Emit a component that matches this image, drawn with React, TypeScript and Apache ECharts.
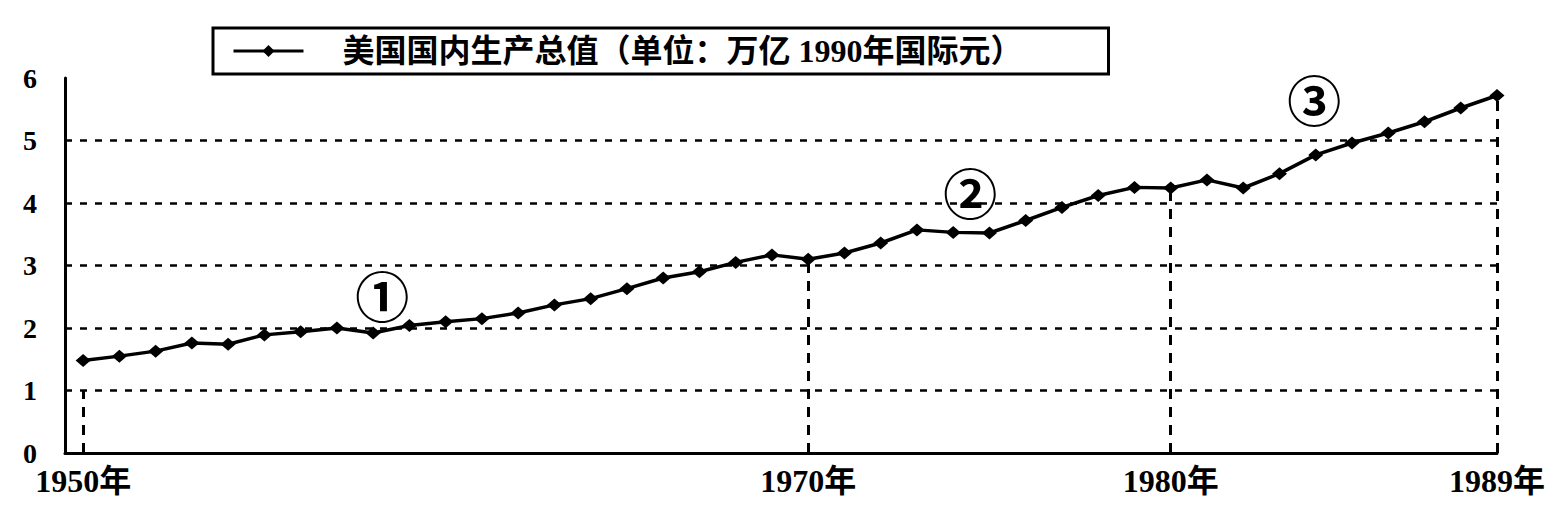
import React, { useEffect, useRef } from "react";
import * as echarts from "echarts";

const SERIES_NAME = "美国国内生产总值（单位：万亿 1990年国际元）";

const YEARS = [
  1950, 1951, 1952, 1953, 1954, 1955, 1956, 1957, 1958, 1959,
  1960, 1961, 1962, 1963, 1964, 1965, 1966, 1967, 1968, 1969,
  1970, 1971, 1972, 1973, 1974, 1975, 1976, 1977, 1978, 1979,
  1980, 1981, 1982, 1983, 1984, 1985, 1986, 1987, 1988, 1989,
];

const GDP = [
  1.48, 1.55, 1.63, 1.76, 1.74, 1.89, 1.94, 2.0, 1.92, 2.04,
  2.1, 2.15, 2.24, 2.37, 2.47, 2.63, 2.8, 2.9, 3.05, 3.17,
  3.1, 3.2, 3.36, 3.57, 3.53, 3.52, 3.72, 3.93, 4.12, 4.25,
  4.24, 4.37, 4.24, 4.47, 4.77, 4.96, 5.12, 5.3, 5.52, 5.72,
];

const X_LABEL_YEARS = [1950, 1970, 1980, 1989];
const GRID_LEVELS = [1, 2, 3, 4, 5];
const DROP_YEARS = [1950, 1970, 1980, 1989];
const DROP_TOPS = [1.0, 3.1, 4.24, 5.72];

const PERIOD_NAMES = ["①", "②", "③"];
const PERIOD_YEARS = [1958.25, 1974.47, 1983.96];
const PERIOD_LEVELS = [2.54, 4.18, 5.68];

const SERIF = "'Liberation Serif', 'DejaVu Serif', 'Noto Sans CJK SC', serif";
const CJK = "'Liberation Serif', 'Noto Sans CJK SC', sans-serif";

export default function App() {
  const ref = useRef<HTMLDivElement>(null);

  useEffect(() => {
    if (!ref.current) return;
    const chart = echarts.init(ref.current, undefined, { renderer: "svg" });

    const dropLines = DROP_YEARS.map((y, i) => [
      { coord: [y, 0], lineStyle: { type: [10, 8], width: 3, color: "#000" } },
      { coord: [y, DROP_TOPS[i]] },
    ]);
    const gridLines = GRID_LEVELS.map((v) => ({
      yAxis: v,
      lineStyle: { type: [7, 8], width: 2.5, color: "#000" },
    }));

    chart.setOption({
      animation: false,
      backgroundColor: "#fff",
      grid: { left: 65, right: 59, top: 78, bottom: 66 },
      legend: {
        data: [SERIES_NAME],
        left: 213,
        top: 28,
        itemWidth: 70,
        itemHeight: 15,
        padding: [7, 86, 7, 19],
        borderColor: "#000",
        borderWidth: 3,
        selectedMode: false,
        lineStyle: { width: 3, color: "#000" },
        itemStyle: { color: "#000" },
        textStyle: {
          fontFamily: CJK,
          fontSize: 32,
          fontWeight: "bold",
          color: "#000",
          padding: [0, 0, 0, 34],
        },
      },
      xAxis: {
        type: "value",
        min: 1949.5,
        max: 1989,
        axisLine: { show: true, onZero: false, lineStyle: { color: "#000", width: 3 } },
        axisTick: { show: false },
        splitLine: { show: false },
        axisLabel: {
          customValues: X_LABEL_YEARS,
          formatter: (v: number) => `${v}年`,
          fontFamily: SERIF,
          fontSize: 32,
          fontWeight: "bold",
          color: "#000",
          margin: 12,
        },
      },
      yAxis: {
        type: "value",
        min: 0,
        max: 6,
        interval: 1,
        axisLine: { show: true, lineStyle: { color: "#000", width: 3 } },
        axisTick: { show: false },
        splitLine: { show: false },
        axisLabel: {
          fontFamily: SERIF,
          fontSize: 28,
          fontWeight: "bold",
          color: "#000",
          margin: 28,
        },
      },
      series: [
        {
          type: "line",
          name: SERIES_NAME,
          data: YEARS.map((y, i) => [y, GDP[i]]),
          symbol: "diamond",
          symbolSize: [15, 13],
          lineStyle: { color: "#000", width: 3.5 },
          itemStyle: { color: "#000" },
          z: 5,
          markLine: {
            silent: true,
            symbol: ["none", "none"],
            label: { show: false },
            data: [...gridLines, ...dropLines],
          },
          markPoint: {
            silent: true,
            symbol: "circle",
            symbolSize: 1,
            itemStyle: { color: "rgba(0,0,0,0)" },
            label: {
              show: true,
              position: "inside",
              formatter: (p: any) => p.name,
              fontFamily: "'Noto Sans CJK SC', sans-serif",
              fontSize: 54,
              fontWeight: "bold",
              color: "#000",
            },
            data: PERIOD_NAMES.map((n, i) => ({
              name: n,
              coord: [PERIOD_YEARS[i], PERIOD_LEVELS[i]],
            })),
          },
        },
      ],
    });

    return () => chart.dispose();
  }, []);

  return (
    <div
      ref={ref}
      style={{ position: "fixed", left: 0, top: 0, width: 1556, height: 519, background: "#fff" }}
    />
  );
}
